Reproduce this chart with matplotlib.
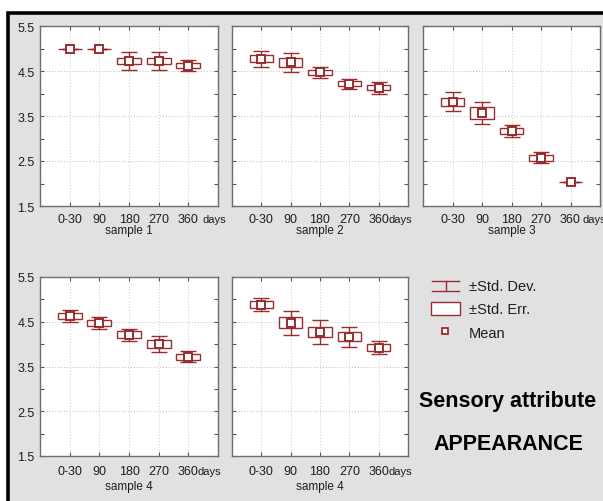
import matplotlib
matplotlib.use('Agg')
import matplotlib.pyplot as plt
import matplotlib.transforms as mtransforms
from matplotlib.patches import Rectangle
from matplotlib.lines import Line2D

plt.rcParams['font.family'] = ['Liberation Sans', 'DejaVu Sans']

# ---------------- data ----------------
categories = ['0-30', '90', '180', '270', '360']
panel_titles = ['sample 1', 'sample 2', 'sample 3', 'sample 4', 'sample 4']

mean_s1 = [5.00, 5.00, 4.73, 4.73, 4.62]
se_s1 = [0.00, 0.00, 0.07, 0.07, 0.05]
sd_s1 = [0.00, 0.00, 0.20, 0.20, 0.13]

mean_s2 = [4.77, 4.69, 4.47, 4.22, 4.13]
se_s2 = [0.08, 0.10, 0.06, 0.06, 0.06]
sd_s2 = [0.18, 0.22, 0.12, 0.11, 0.13]

mean_s3 = [3.82, 3.57, 3.17, 2.57, 2.03]
se_s3 = [0.09, 0.13, 0.07, 0.07, 0.00]
sd_s3 = [0.21, 0.25, 0.13, 0.12, 0.00]

mean_s4a = [4.63, 4.47, 4.21, 4.01, 3.72]
se_s4a = [0.07, 0.07, 0.075, 0.09, 0.07]
sd_s4a = [0.14, 0.13, 0.13, 0.18, 0.12]

mean_s4b = [4.88, 4.48, 4.27, 4.16, 3.92]
se_s4b = [0.075, 0.13, 0.11, 0.10, 0.08]
sd_s4b = [0.14, 0.27, 0.26, 0.22, 0.15]

y_ticks = [1.5, 2.5, 3.5, 4.5, 5.5]
y_minor = [2.0, 3.0, 4.0, 5.0]
legend_labels = ['\u00b1Std. Dev.', '\u00b1Std. Err.', 'Mean']
title_lines = ['Sensory attribute', 'APPEARANCE']

panels = [
    (mean_s1, se_s1, sd_s1),
    (mean_s2, se_s2, sd_s2),
    (mean_s3, se_s3, sd_s3),
    (mean_s4a, se_s4a, sd_s4a),
    (mean_s4b, se_s4b, sd_s4b),
]

# ---------------- style / layout ----------------
W, H = 603, 502
RED = '#9a2b2e'
TXT = '#1e1e1e'
SPINE = '#6e6e6e'
BG = '#e1e1e1'

fig = plt.figure(figsize=(W / 100, H / 100), dpi=100)
fig.patch.set_facecolor('white')

# gray panel with black border (top & left visible)
fig.add_artist(Rectangle((8 / W, -0.05), 1.1, 1 - 14 / H + 0.05,
                         transform=fig.transFigure, facecolor=BG,
                         edgecolor='black', linewidth=2.6, zorder=0))

def px_rect(x0, y0, x1, y1):
    return [x0 / W, 1 - y1 / H, (x1 - x0) / W, (y1 - y0) / H]

rects = [(40, 27, 218, 207), (232, 27, 408, 207), (423, 27, 600, 207),
         (40, 278, 218, 457), (232, 278, 408, 457)]
tick_off = [13, 13, 13, 15, 15]
label_off = [24, 24, 24, 30, 30]
days_x = [4.47, 4.34, 4.40, 4.30, 4.34]

xs = list(range(len(categories)))

for i, ((mean, se, sd), r) in enumerate(zip(panels, rects)):
    ax = fig.add_axes(px_rect(*r))
    ax.set_facecolor('white')
    ax.set_xlim(-1, len(categories))
    ax.set_ylim(1.5, 5.5)
    # grid
    for yv in y_ticks[1:-1]:
        ax.axhline(yv, color='#bcbcbc', lw=0.7, ls=(0, (1, 2)), zorder=1)
    for xv in xs:
        ax.axvline(xv, color='#c8c8c8', lw=0.7, ls=(0, (1, 2)), zorder=1)
    # whiskers (SD)
    ax.errorbar(xs, mean, yerr=sd, fmt='none', ecolor=RED, elinewidth=1.0,
                capsize=6, capthick=1.0, zorder=2)
    # boxes (SE)
    lows = [m - s for m, s in zip(mean, se)]
    ax.bar(xs, [2 * s for s in se], bottom=lows, width=0.8,
           facecolor='white', edgecolor=RED, linewidth=1.0, zorder=3)
    # means
    ax.plot(xs, mean, ls='none', marker='s', ms=5.5, mfc='white', mec=RED,
            mew=1.4, zorder=4)

    ax.set_xticks(xs)
    ax.set_xticklabels([])
    ax.set_yticks(y_ticks)
    ax.set_yticks(y_minor, minor=True)
    if i in (0, 3):
        ax.set_yticklabels([f'{v:.1f}' for v in y_ticks], fontsize=9,
                           color=TXT)
    else:
        ax.set_yticklabels([])
    ax.tick_params(axis='both', which='both', direction='in', length=3,
                   width=0.8, color='#555555', top=True, right=True, pad=4)
    for s in ax.spines.values():
        s.set_color(SPINE)
        s.set_linewidth(1.0)

    # x tick labels
    tr = mtransforms.blended_transform_factory(ax.transData, ax.transAxes) + \
        mtransforms.ScaledTranslation(0, -tick_off[i] / 100, fig.dpi_scale_trans)
    for xv, lab in zip(xs, categories):
        ax.text(xv, 0, lab, transform=tr, ha='center', va='center',
                fontsize=9, color=TXT, clip_on=False)
    ax.text(days_x[i], 0, 'days', transform=tr, ha='left', va='center',
            fontsize=8, color=TXT, clip_on=False)
    tr2 = ax.transAxes + mtransforms.ScaledTranslation(
        0, -label_off[i] / 100, fig.dpi_scale_trans)
    ax.text(0.5, 0, panel_titles[i], transform=tr2, ha='center',
            va='center', fontsize=8.5, color=TXT, clip_on=False)

# ---------------- legend & caption (pixel overlay) ----------------
ov = fig.add_axes([0, 0, 1, 1], zorder=10)
ov.set_xlim(0, W)
ov.set_ylim(H, 0)
ov.axis('off')
ov.patch.set_alpha(0)

# SD symbol
ov.add_line(Line2D([432, 459], [282, 282], color=RED, lw=1.0))
ov.add_line(Line2D([445.5, 445.5], [282, 292], color=RED, lw=1.0))
ov.add_line(Line2D([432, 459], [292, 292], color=RED, lw=1.0))
# SE symbol
ov.add_patch(Rectangle((431, 303), 29, 13, facecolor='white', edgecolor=RED,
                       lw=1.0))
# Mean symbol
ov.plot([445], [332], marker='s', ms=4.5, mfc='white', mec=RED, mew=1.3)

for lab, yv in zip(legend_labels, [287, 310, 334]):
    ov.text(469, yv, lab, fontsize=10.5, color=TXT, ha='left', va='center')

ov.text(508, 402, title_lines[0], fontsize=15.5, fontweight='bold',
        ha='center', va='center', color='black')
ov.text(508, 445, title_lines[1], fontsize=15.5, fontweight='bold',
        ha='center', va='center', color='black')

fig.savefig('out.png', dpi=100, facecolor=fig.get_facecolor())
